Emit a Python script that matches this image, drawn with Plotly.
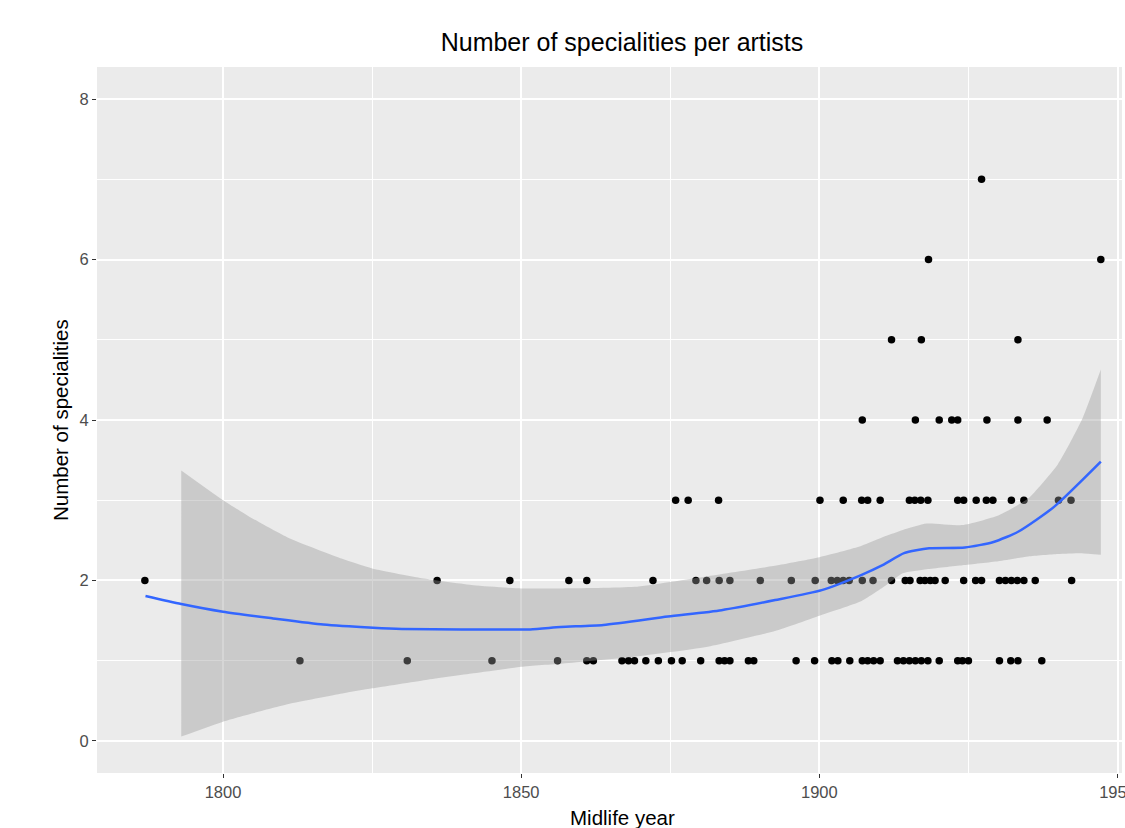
import plotly.graph_objects as go

# ---- data ----
years_1 = [1812.9, 1830.9, 1845.1, 1856.1, 1861.0, 1862.1, 1866.9, 1868.0, 1869.0, 1870.9,
           1873.0, 1875.2, 1877.0, 1880.1, 1883.2, 1884.1, 1885.0, 1888.1, 1889.0, 1896.1,
           1899.2, 1902.1, 1903.1, 1905.1, 1907.2, 1908.1, 1909.1, 1910.2, 1913.1, 1914.1,
           1915.1, 1916.1, 1917.1, 1918.2, 1920.1, 1923.2, 1924.0, 1925.0, 1930.2, 1932.1,
           1933.3, 1937.3]
years_2 = [1786.9, 1835.9, 1848.1, 1858.0, 1861.0, 1872.1, 1879.3, 1881.1, 1883.2, 1885.0,
           1890.1, 1895.3, 1899.3, 1902.0, 1903.0, 1904.0, 1905.0, 1907.2, 1909.0, 1912.1,
           1914.4, 1915.2, 1916.9, 1917.7, 1918.6, 1919.4, 1921.1, 1924.2, 1926.2, 1927.2,
           1930.2, 1931.2, 1932.2, 1933.2, 1934.3, 1936.2, 1942.3]
years_3 = [1875.9, 1878.0, 1883.1, 1900.1, 1904.0, 1907.1, 1908.1, 1910.2, 1915.1, 1916.0,
           1917.0, 1918.2, 1923.2, 1924.2, 1926.3, 1928.0, 1929.1, 1932.2, 1934.3, 1940.1,
           1942.2]
years_4 = [1907.2, 1916.1, 1920.1, 1922.2, 1923.2, 1928.1, 1933.3, 1938.2]
years_5 = [1912.1, 1917.1, 1933.3]
years_6 = [1918.3, 1947.2]
years_7 = [1927.2]

smooth_x = [1787, 1793, 1800, 1808.4, 1816.8, 1825.2, 1830, 1840, 1851.5, 1856.6, 1863.8,
            1874.6, 1883.6, 1892.6, 1900.4, 1907, 1910.6, 1914.2, 1918.4, 1924.4, 1929.2,
            1933.4, 1939.4, 1947.2]
smooth_y = [1.806, 1.706, 1.61, 1.527, 1.45, 1.41, 1.395, 1.39, 1.39, 1.42, 1.445,
            1.55, 1.63, 1.756, 1.88, 2.067, 2.19, 2.34, 2.40, 2.41, 2.48,
            2.61, 2.92, 3.48]

band_x = [1793, 1800, 1805, 1811, 1820, 1825, 1834, 1842, 1850, 1857, 1869, 1881, 1893,
          1900, 1907, 1911, 1914, 1918, 1924, 1930, 1935, 1940, 1944, 1947.2]
band_upper = [3.37, 3.0, 2.77, 2.53, 2.27, 2.15, 2.02, 1.94, 1.90, 1.90, 1.92, 2.05, 2.19,
              2.29, 2.43, 2.55, 2.63, 2.71, 2.69, 2.81, 3.02, 3.45, 4.0, 4.63]
band_lower = [0.054, 0.24, 0.345, 0.46, 0.59, 0.655, 0.76, 0.843, 0.925, 0.966, 1.05, 1.17, 1.38,
              1.56, 1.74, 1.93, 2.09, 2.14, 2.19, 2.24, 2.30, 2.33, 2.34, 2.32]

x_ticks = [1800, 1850, 1900, 1950]
y_ticks = [0, 2, 4, 6, 8]

# ---- build figure ----
groups = [(years_1, 1), (years_2, 2), (years_3, 3), (years_4, 4),
          (years_5, 5), (years_6, 6), (years_7, 7)]
px_x, px_y = [], []
for ys, v in groups:
    px_x += ys
    px_y += [v] * len(ys)

fig = go.Figure()
fig.add_trace(go.Scatter(x=px_x, y=px_y, mode="markers",
                         marker=dict(color="black", size=7.5, line=dict(width=0)),
                         hoverinfo="skip", showlegend=False))
fig.add_trace(go.Scatter(x=band_x, y=band_lower, mode="lines",
                         line=dict(width=0, shape="spline", smoothing=0.5),
                         hoverinfo="skip", showlegend=False))
fig.add_trace(go.Scatter(x=band_x, y=band_upper, mode="lines", fill="tonexty",
                         fillcolor="rgba(153,153,153,0.4)",
                         line=dict(width=0, shape="spline", smoothing=0.5),
                         hoverinfo="skip", showlegend=False))
fig.add_trace(go.Scatter(x=smooth_x, y=smooth_y, mode="lines",
                         line=dict(color="#3366FF", width=2.5, shape="spline", smoothing=0.6),
                         hoverinfo="skip", showlegend=False))

W, H = 1125, 828
L, R, T, B = 97, 3, 67, 55
pw = W - L - R
ph = H - T - B

fig.update_layout(
    width=W, height=H,
    margin=dict(l=L, r=R, t=T, b=B),
    paper_bgcolor="white", plot_bgcolor="#EBEBEB",
    font=dict(family="Liberation Sans, Arial, sans-serif"),
    title=dict(text="Number of specialities per artists",
               x=(622 - L) / pw, xref="paper", xanchor="center",
               y=1 - 42 / H, yref="container", yanchor="middle",
               font=dict(size=25, color="black")),
    showlegend=False,
)
fig.update_xaxes(range=[1778.87, 1950.75], tickvals=x_ticks,
                 ticktext=[str(v) for v in x_ticks],
                 showgrid=True, gridcolor="white", gridwidth=1.6,
                 minor=dict(tickvals=[1825, 1875, 1925], showgrid=True,
                            gridcolor="white", gridwidth=0.8, ticks=""),
                 zeroline=False, showline=False,
                 ticks="outside", ticklen=4, tickwidth=1, tickcolor="#333333",
                 ticklabeloverflow="allow",
                 tickfont=dict(size=16.5, color="#4D4D4D"), automargin=False)
fig.update_yaxes(range=[-0.4, 8.4], tickvals=y_ticks,
                 showgrid=True, gridcolor="white", gridwidth=1.6,
                 minor=dict(tickvals=[1, 3, 5, 7], showgrid=True,
                            gridcolor="white", gridwidth=0.8, ticks=""),
                 zeroline=False, showline=False,
                 ticks="outside", ticklen=4, tickwidth=1, tickcolor="#333333",
                 tickfont=dict(size=16.5, color="#4D4D4D"), automargin=False)

fig.add_annotation(text="Midlife year", xref="paper", yref="paper",
                   x=(622 - L) / pw, y=(H - B - 817) / ph, xanchor="center", yanchor="middle",
                   showarrow=False, font=dict(size=20.5, color="black"))
fig.add_annotation(text="Number of specialities", xref="paper", yref="paper",
                   x=(60 - L) / pw, y=0.5, xanchor="center", yanchor="middle",
                   textangle=-90, showarrow=False, font=dict(size=20.5, color="black"))

fig.write_html("out.html", config={"displayModeBar": False},
               post_script="document.body.style.margin='0px';document.body.style.overflow='hidden';")
